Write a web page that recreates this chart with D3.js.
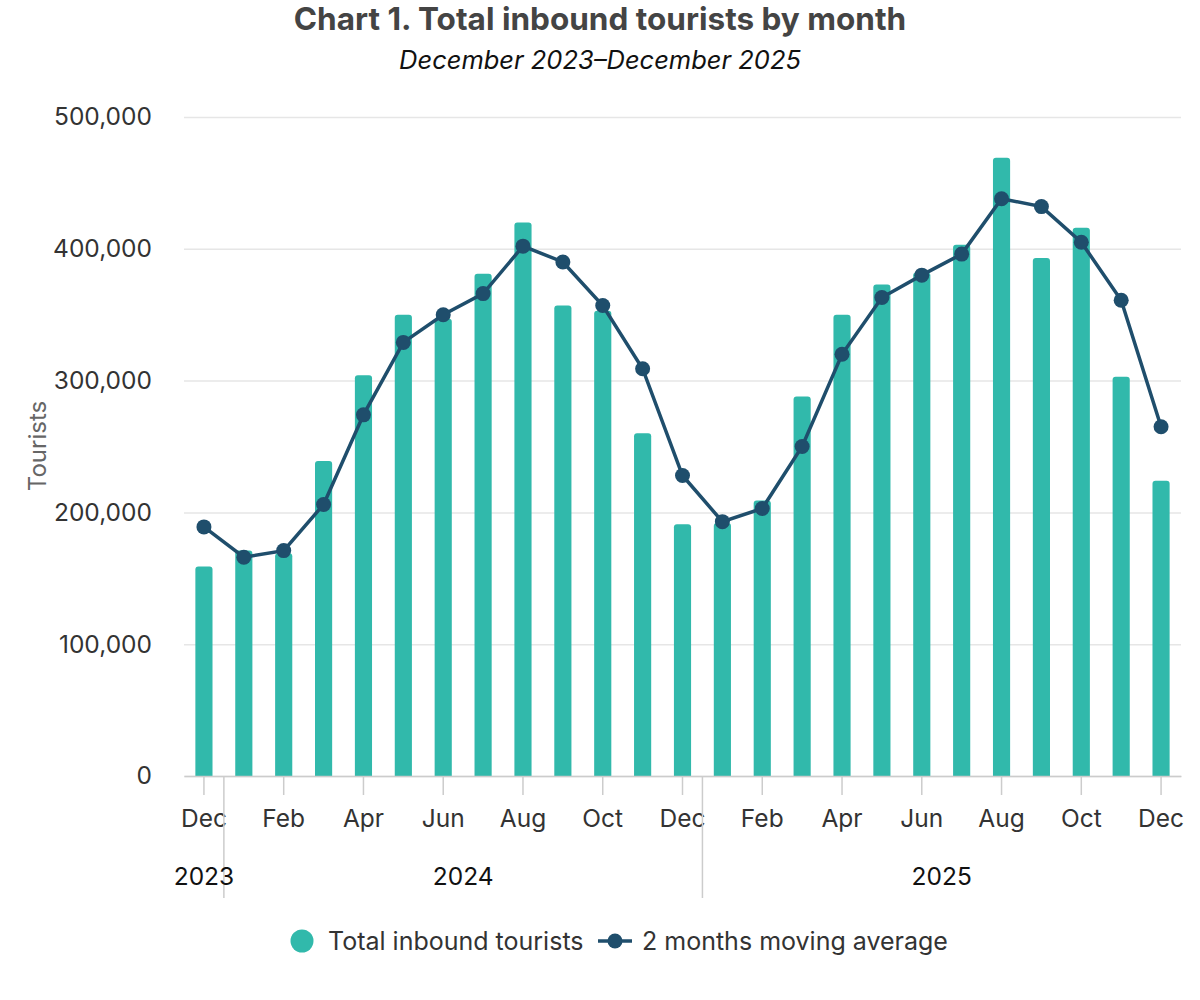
<!DOCTYPE html>
<html>
<head>
<meta charset="utf-8">
<script src="https://cdn.jsdelivr.net/npm/d3@7"></script>
<style>
  body { margin: 0; background: #fff; }
  svg { display: block; font-family: Inter, "Open Sans", sans-serif; }
</style>
</head>
<body>
<div id="vis"></div>
<script>
// months shown on the x axis, Dec 2023 .. Dec 2025
var months = ["Dec", "Jan", "Feb", "Mar", "Apr", "May", "Jun", "Jul", "Aug", "Sep", "Oct", "Nov",
  "Dec", "Jan", "Feb", "Mar", "Apr", "May", "Jun", "Jul", "Aug", "Sep", "Oct", "Nov", "Dec"];
var years = ["2023", "2024", "2024", "2024", "2024", "2024", "2024", "2024", "2024", "2024", "2024", "2024",
  "2024", "2025", "2025", "2025", "2025", "2025", "2025", "2025", "2025", "2025", "2025", "2025", "2025"];

// total inbound tourists (bars)
var tourists = [159000, 171000, 169000, 239000, 304000, 350000, 347000, 381000, 420000, 357000, 353000, 260000,
  191000, 192000, 209000, 288000, 350000, 373000, 382000, 403000, 469000, 393000, 416000, 303000, 224000];

// 2 months moving average (line)
var movingAvg = [189000, 166000, 171000, 206000, 274000, 329000, 350000, 366000, 402000, 390000, 357000, 309000,
  228000, 193000, 203000, 250000, 320000, 363000, 380000, 396000, 438000, 432000, 405000, 361000, 265000];

var yTicks = [0, 100000, 200000, 300000, 400000, 500000];

var width = 1200;
var height = 1000;
var margin = { top: 117, left: 184, bottom: 224, right: 19 };

var barColor = "#31b9ab";
var lineColor = "#1f4e6c";

var svg = d3.select("#vis").append("svg")
  .attr("width", width)
  .attr("height", height);

var idx = d3.range(months.length);

var x = d3.scaleBand()
  .domain(idx)
  .range([margin.left, width - margin.right])
  .paddingInner(0.57)
  .paddingOuter(0.285);

var y = d3.scaleLinear()
  .domain([0, 500000])
  .range([height - margin.bottom, margin.top]);

var cx = function (i) { return x(i) + x.bandwidth() / 2; };

// title
svg.append("text")
  .attr("x", 600).attr("y", 30)
  .attr("text-anchor", "middle")
  .style("font-size", "31.5px").style("font-weight", "700")
  .attr("fill", "#444")
  .text("Chart 1. Total inbound tourists by month");

svg.append("text")
  .attr("x", 600).attr("y", 69)
  .attr("text-anchor", "middle")
  .style("font-size", "25.5px").style("font-style", "italic")
  .attr("fill", "#111")
  .text("December 2023\u2013December 2025");

// grid lines + y labels
var yAxis = d3.axisLeft(y)
  .tickValues(yTicks)
  .tickSize(-(width - margin.left - margin.right))
  .tickPadding(32)
  .tickFormat(d3.format(","));

var gy = svg.append("g")
  .attr("transform", "translate(" + margin.left + ",0)")
  .call(yAxis);
gy.select(".domain").remove();
gy.selectAll(".tick line").attr("stroke", "#e6e6e6").attr("stroke-width", 1.5);
gy.selectAll(".tick text")
  .attr("fill", "#333")
  .style("font-size", "24.5px")
  .style("font-family", "Inter, sans-serif");

svg.append("text")
  .attr("transform", "translate(46,446) rotate(-90)")
  .attr("text-anchor", "middle")
  .style("font-size", "24px")
  .attr("fill", "#666")
  .text("Tourists");

// bars with rounded top corners
var r = 3;
svg.append("g").selectAll("path.bar")
  .data(idx)
  .join("path")
  .attr("class", "bar")
  .attr("fill", barColor)
  .attr("d", function (i) {
    var x0 = x(i), w = x.bandwidth(), y0 = y(tourists[i]), yb = y(0);
    return "M" + x0 + "," + yb +
      "V" + (y0 + r) +
      "Q" + x0 + "," + y0 + " " + (x0 + r) + "," + y0 +
      "H" + (x0 + w - r) +
      "Q" + (x0 + w) + "," + y0 + " " + (x0 + w) + "," + (y0 + r) +
      "V" + yb + "Z";
  });

// x axis (months every other tick)
var xAxis = d3.axisBottom(x)
  .tickValues(idx.filter(function (i) { return i % 2 === 0; }))
  .tickSize(19)
  .tickSizeOuter(0)
  .tickPadding(15)
  .tickFormat(function (i) { return months[i]; });

var gx = svg.append("g")
  .attr("transform", "translate(0," + y(0) + ")")
  .call(xAxis);
gx.select(".domain").attr("stroke", "#ccc").attr("stroke-width", 1.5);
gx.selectAll(".tick line").attr("stroke", "#ccc").attr("stroke-width", 1.5);
gx.selectAll(".tick text")
  .attr("fill", "#333")
  .style("font-size", "24.5px")
  .style("font-family", "Inter, sans-serif");

// year groups
var yearNames = ["2023", "2024", "2025"];
var yearGroups = yearNames.map(function (yr) {
  var ii = idx.filter(function (i) { return years[i] === yr; });
  var x0 = x(ii[0]) - x.step() * x.paddingInner() / 2;
  var x1 = x(ii[ii.length - 1]) + x.bandwidth() + x.step() * x.paddingInner() / 2;
  return { name: yr, x0: Math.max(x0, margin.left), x1: Math.min(x1, width - margin.right) };
});

svg.append("g").selectAll("line.sep")
  .data(yearGroups.slice(1))
  .join("line")
  .attr("x1", function (d) { return d.x0; })
  .attr("x2", function (d) { return d.x0; })
  .attr("y1", y(0))
  .attr("y2", 898)
  .attr("stroke", "#ccc")
  .attr("stroke-width", 1.5);

svg.append("g").selectAll("text.year")
  .data(yearGroups)
  .join("text")
  .attr("x", function (d) { return (d.x0 + d.x1) / 2; })
  .attr("y", 885)
  .attr("text-anchor", "middle")
  .style("font-size", "24.5px")
  .attr("fill", "#111")
  .text(function (d) { return d.name; });

// moving average line
var line = d3.line()
  .x(function (i) { return cx(i); })
  .y(function (i) { return y(movingAvg[i]); });

svg.append("path")
  .datum(idx)
  .attr("fill", "none")
  .attr("stroke", lineColor)
  .attr("stroke-width", 3.5)
  .attr("d", line);

svg.append("g").selectAll("circle")
  .data(idx)
  .join("circle")
  .attr("cx", cx)
  .attr("cy", function (i) { return y(movingAvg[i]); })
  .attr("r", 7.5)
  .attr("fill", lineColor);

// legend
var lg = svg.append("g").attr("transform", "translate(0,941)");
lg.append("circle").attr("cx", 302).attr("cy", 0).attr("r", 11.5).attr("fill", barColor);
lg.append("text").attr("x", 328).attr("y", 9)
  .style("font-size", "25px").attr("fill", "#333")
  .text("Total inbound tourists");
lg.append("line").attr("x1", 598).attr("x2", 632).attr("y1", 0).attr("y2", 0)
  .attr("stroke", lineColor).attr("stroke-width", 3.5);
lg.append("circle").attr("cx", 615).attr("cy", 0).attr("r", 7.5).attr("fill", lineColor);
lg.append("text").attr("x", 642).attr("y", 9)
  .style("font-size", "25px").attr("fill", "#333")
  .text("2 months moving average");
</script>
</body>
</html>
